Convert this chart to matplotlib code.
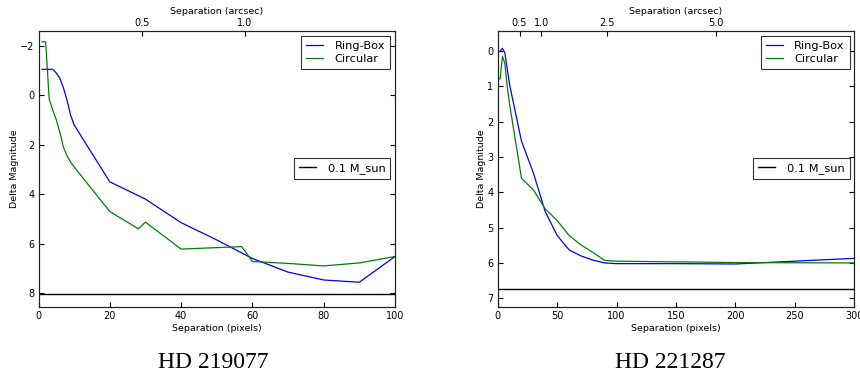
# Contrast curves for two targets: Ring-Box vs Circular photometry
import numpy as np
import matplotlib.pyplot as plt

# HD 219077 (separation in pixels, delta magnitude)
sep1_rb = [1, 2, 3, 4, 5, 6, 7, 8, 9, 10, 20, 30, 40, 50, 60, 70, 80, 90, 100]
dm1_rb = [-1.05, -1.05, -1.05, -1.05, -0.9, -0.68, -0.3, 0.2, 0.8, 1.2,
          3.5, 4.2, 5.15, 5.85, 6.6, 7.15, 7.47, 7.56, 6.52]
sep1_circ = [1, 2, 3, 4, 5, 6, 7, 8, 9, 10, 20, 28, 30, 40, 57, 60, 70, 80, 90, 100]
dm1_circ = [-2.16, -2.16, 0.15, 0.6, 1.0, 1.5, 2.1, 2.45, 2.7, 2.9,
            4.7, 5.4, 5.13, 6.22, 6.12, 6.72, 6.8, 6.9, 6.78, 6.52]
msun1 = 8.04

# HD 221287
sep2_rb = [0, 2, 4, 6, 8, 10, 20, 30, 40, 50, 60, 70, 80, 90, 100, 150, 200, 250, 300]
dm2_rb = [0.04, 0.0, -0.08, 0.05, 0.5, 0.95, 2.55, 3.45, 4.55, 5.22, 5.63,
          5.8, 5.92, 6.0, 6.02, 6.02, 6.03, 5.95, 5.87]
sep2_circ = [0, 2, 4, 6, 8, 10, 20, 30, 40, 50, 60, 70, 80, 90, 100, 200, 300]
dm2_circ = [0.79, 0.79, 0.15, 0.35, 1.0, 1.5, 3.6, 3.93, 4.47, 4.8, 5.22,
            5.49, 5.7, 5.93, 5.95, 5.99, 6.0]
msun2 = 6.73

# top axis: arcsec ticks
arcsec1 = [0.5, 1.0]
arcsec2 = [0.5, 1.0, 2.5, 5.0]
scale1 = 1 / 57.9   # arcsec per pixel
scale2 = 1 / 36.7

fig = plt.figure(figsize=(8.6, 3.85), dpi=100)


def panel(rect, sx_rb, y_rb, sx_c, y_c, msun, xmax, ylim, yticks, arcsec, scale, name, name_x):
    ax = fig.add_axes(rect)
    ax.plot(sx_rb, y_rb, color='b', lw=0.9, label='Ring-Box')
    ax.plot(sx_c, y_c, color='g', lw=0.9, label='Circular')
    leg1 = ax.legend(loc='upper right', fontsize=8.2, fancybox=False, edgecolor='black',
                     handlelength=1.5, handletextpad=1.0, borderpad=0.45,
                     labelspacing=0.3, borderaxespad=0.4)
    leg1.get_frame().set_linewidth(0.8)
    ax.add_artist(leg1)
    h, = ax.plot([0, xmax], [msun, msun], color='black', lw=1.0)
    leg2 = ax.legend([h], ['0.1 M_sun'], loc='center right', fontsize=8.2, fancybox=False,
                     edgecolor='black', handlelength=1.5, handletextpad=1.0,
                     borderpad=0.45, borderaxespad=0.4)
    leg2.get_frame().set_linewidth(0.8)
    ax.set_xlim(0, xmax)
    ax.set_ylim(*ylim)
    ax.set_yticks(yticks)
    ax.set_xlabel('Separation (pixels)', fontsize=6.8, labelpad=2)
    ax.set_ylabel('Delta Magnitude', fontsize=6.8, labelpad=1)
    ax.tick_params(direction='in', labelsize=7, right=True, pad=3)
    ax2 = ax.twiny()
    ax2.set_xlim(0, xmax)
    ax2.set_xticks([a / scale for a in arcsec])
    ax2.set_xticklabels([str(a) for a in arcsec])
    ax2.tick_params(direction='in', labelsize=7, pad=2)
    ax2.set_xlabel('Separation (arcsec)', fontsize=6.8, labelpad=3)
    for a in (ax, ax2):
        for s in a.spines.values():
            s.set_color('#222222')
    fig.text(name_x, 0.045, name, family='Liberation Serif', fontsize=17, ha='center')


panel([38.5 / 860, 78.3 / 385, 356.5 / 860, 275.7 / 385], sep1_rb, dm1_rb, sep1_circ, dm1_circ,
      msun1, 100, (8.55, -2.6), [-2, 0, 2, 4, 6, 8], arcsec1, scale1, 'HD 219077', 213 / 860)
panel([497.7 / 860, 78.3 / 385, 356.6 / 860, 275.7 / 385], sep2_rb, dm2_rb, sep2_circ, dm2_circ,
      msun2, 300, (7.24, -0.57), [0, 1, 2, 3, 4, 5, 6, 7], arcsec2, scale2, 'HD 221287', 670 / 860)

fig.savefig('out.png', dpi=100)
